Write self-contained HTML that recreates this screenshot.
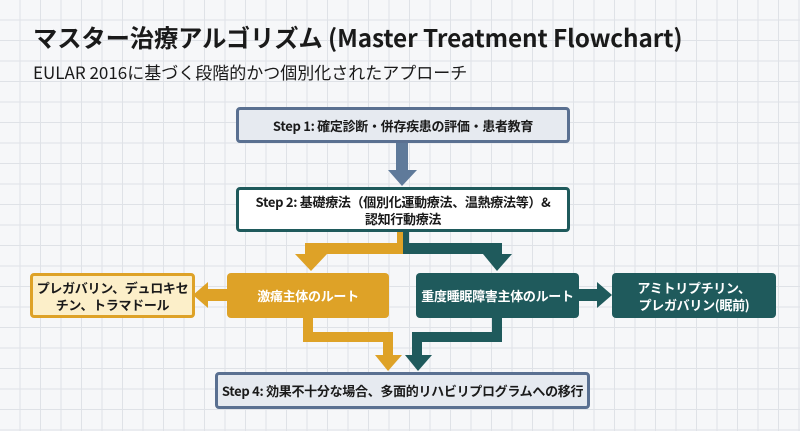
<!DOCTYPE html>
<html><head><meta charset="utf-8"><style>
html,body{margin:0;padding:0}
body{width:800px;height:431px;overflow:hidden;background-color:#f6f7f9;
background-image:linear-gradient(#dfe2e7 1px,transparent 1px),linear-gradient(90deg,#dfe2e7 1px,transparent 1px);
background-size:20.5px 20.5px;background-position:-1px -1px;position:relative;
font-family:"Liberation Sans","Noto Sans CJK JP",sans-serif}
.t{position:absolute;left:33px;top:19px;font-size:24.3px;font-weight:bold;color:#1a1a1a;font-family:"Noto Sans CJK JP",sans-serif;letter-spacing:-0.1px}
.s{position:absolute;left:33px;top:59px;font-size:17px;color:#1a1a1a;font-family:"Noto Sans CJK JP",sans-serif}
.b{position:absolute;box-sizing:border-box;display:flex;align-items:center;justify-content:center;text-align:center;font-weight:bold;font-size:13px;line-height:17px;border-radius:4px;font-family:"Noto Sans CJK JP",sans-serif;letter-spacing:-0.3px}
</style></head><body>
<div class="t">マスター治療アルゴリズム (Master Treatment Flowchart)</div>
<div class="s">EULAR 2016に基づく段階的かつ個別化されたアプローチ</div>
<svg width="800" height="431" style="position:absolute;left:0;top:0">
<rect x="396" y="143" width="12" height="28" fill="#5f7a9a"/>
<polygon points="388,170 417,170 402,186" fill="#5f7a9a"/>
<rect x="397" y="230" width="6" height="24" fill="#dea227"/>
<rect x="403" y="230" width="6" height="24" fill="#1f5a5c"/>
<rect x="305" y="243" width="98" height="11" fill="#dea227"/>
<rect x="403" y="243" width="99" height="11" fill="#1f5a5c"/>
<rect x="305" y="243" width="11" height="13" fill="#dea227"/>
<polygon points="295,254 327,254 311,271" fill="#dea227"/>
<rect x="491" y="243" width="11" height="13" fill="#1f5a5c"/>
<polygon points="483,254 512,254 497,271" fill="#1f5a5c"/>
<rect x="206" y="289" width="24" height="12" fill="#dea227"/>
<polygon points="208,282 208,308 193,295" fill="#dea227"/>
<rect x="577" y="289" width="22" height="12" fill="#1f5a5c"/>
<polygon points="597,282 597,308 612,295" fill="#1f5a5c"/>
<rect x="303" y="316" width="10" height="26" fill="#dea227"/>
<rect x="303" y="332" width="90" height="10" fill="#dea227"/>
<rect x="383" y="332" width="10" height="24" fill="#dea227"/>
<polygon points="375,355 402,355 388,371" fill="#dea227"/>
<rect x="492" y="316" width="10" height="26" fill="#1f5a5c"/>
<rect x="412" y="332" width="90" height="10" fill="#1f5a5c"/>
<rect x="412" y="332" width="10" height="24" fill="#1f5a5c"/>
<polygon points="405,355 432,355 418,371" fill="#1f5a5c"/>
</svg>
<div class="b" style="left:236px;top:107px;width:334px;height:36px;background:#e6eaf0;border:3px solid #5a7091;color:#1a1a1a">Step 1: 確定診断・併存疾患の評価・患者教育</div>
<div class="b" style="left:236px;top:187px;width:334px;height:45px;background:#fff;border:3px solid #1f5a5c;color:#1a1a1a;padding:0 8px">Step 2: 基礎療法（個別化運動療法、温熱療法等）&amp;<br>認知行動療法</div>
<div class="b" style="left:30px;top:273px;width:165px;height:45px;background:#fcefc9;border:3px solid #dea227;color:#1a1a1a">プレガバリン、デュロキセ<br>チン、トラマドール</div>
<div class="b" style="left:227px;top:273px;width:162px;height:45px;background:#dea227;color:#fff">激痛主体のルート</div>
<div class="b" style="left:416px;top:273px;width:163px;height:45px;background:#1f5a5c;color:#fff">重度睡眠障害主体のルート</div>
<div class="b" style="left:612px;top:273px;width:164px;height:45px;background:#1f5a5c;color:#fff">アミトリプチリン、<br>プレガバリン(眠前)</div>
<div class="b" style="left:215px;top:372px;width:375px;height:37px;background:#e6eaf0;border:3px solid #5a7091;color:#1a1a1a">Step 4: 効果不十分な場合、多面的リハビリプログラムへの移行</div>
</body></html>
